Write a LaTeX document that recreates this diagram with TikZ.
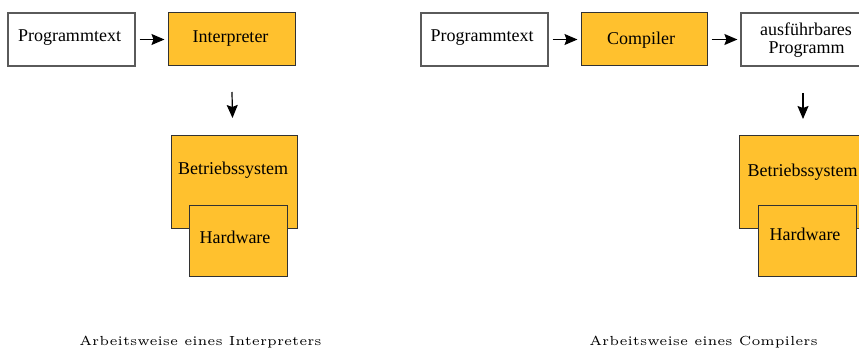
\documentclass[tikz,border=0pt]{standalone}
\usepackage{fontspec}
\newfontfamily\boxfont{Liberation Serif}
\usetikzlibrary{arrows.meta}
\definecolor{boxorange}{RGB}{255,193,46}
\definecolor{plainedge}{RGB}{90,90,90}
\definecolor{fillededge}{RGB}{50,50,50}
\tikzset{
  plainbox/.style={draw=plainedge, line width=1.2pt, fill=white, inner sep=0pt},
  orangebox/.style={draw=fillededge, line width=1pt, fill=boxorange, inner sep=0pt},
  boxtext/.style={font=\boxfont\fontsize{18}{19}\selectfont, anchor=base, inner sep=0pt, align=center},
  flow/.style={line width=1.2pt, -{Stealth[length=13pt, width=11pt, inset=2pt]}},
  caption/.style={anchor=base, inner sep=0pt}
}
\newcommand{\captiontext}[1]{\scalebox{2.63}{\fontsize{5}{6}\selectfont #1}}
\begin{document}
\begin{tikzpicture}[x=1pt, y=-1pt]
\useasboundingbox (0,0) rectangle (859,350);

% ---- interpreter ----
\node[plainbox, minimum width=127pt, minimum height=53pt] (progA) at (71.5,39.5) {};
\node[boxtext] (progAtxt) at (69.5,42) {Programmtext};
\node[orangebox, minimum width=127pt, minimum height=53pt] (interp) at (231.5,39.5) {};
\node[boxtext] (interptxt) at (230.5,42.5) {Interpreter};
\node[orangebox, minimum width=126pt, minimum height=92pt] (osA) at (234,182) {};
\node[boxtext] (osAtxt) at (233,174) {Betriebssystem};
\node[orangebox, minimum width=98pt, minimum height=71pt] (hwA) at (238,240.5) {};
\node[boxtext] (hwAtxt) at (235,243) {Hardware};

\draw[flow, shorten <=4pt, shorten >=3pt] (progA) -- (interp);
\coordinate (downAstart) at (232,92);
\coordinate (downAend) at (232.5,118);
\draw[flow] (downAstart) -- (downAend);

% ---- compiler ----
\node[plainbox, minimum width=127pt, minimum height=53pt] (progB) at (484.5,39.5) {};
\node[boxtext] (progBtxt) at (482,42) {Programmtext};
\node[orangebox, minimum width=126pt, minimum height=53pt] (comp) at (644,39.5) {};
\node[boxtext] (comptxt) at (641,45) {Compiler};
\node[plainbox, minimum width=127pt, minimum height=53pt] (exe) at (804.5,39.5) {};
\node[boxtext] (exetxtA) at (806,36) {ausführbares};
\node[boxtext] (exetxtB) at (806.5,54) {Programm};
\node[orangebox, minimum width=127pt, minimum height=92pt] (osB) at (802.5,182) {};
\node[boxtext] (osBtxt) at (802.5,176) {Betriebssystem};
\node[orangebox, minimum width=98pt, minimum height=71pt] (hwB) at (807,240.5) {};
\node[boxtext] (hwBtxt) at (805,240) {Hardware};

\draw[flow, shorten <=4pt, shorten >=3pt] (progB) -- (comp);
\draw[flow, shorten <=4pt, shorten >=3pt] (comp) -- (exe);
\coordinate (downBstart) at (803,93);
\coordinate (downBend) at (803,119);
\draw[flow] (downBstart) -- (downBend);

% ---- captions ----
\node[caption] (capA) at (200.5,345) {\captiontext{Arbeitsweise eines Interpreters}};
\node[caption] (capB) at (703.5,345) {\captiontext{Arbeitsweise eines Compilers}};
\end{tikzpicture}
\end{document}
